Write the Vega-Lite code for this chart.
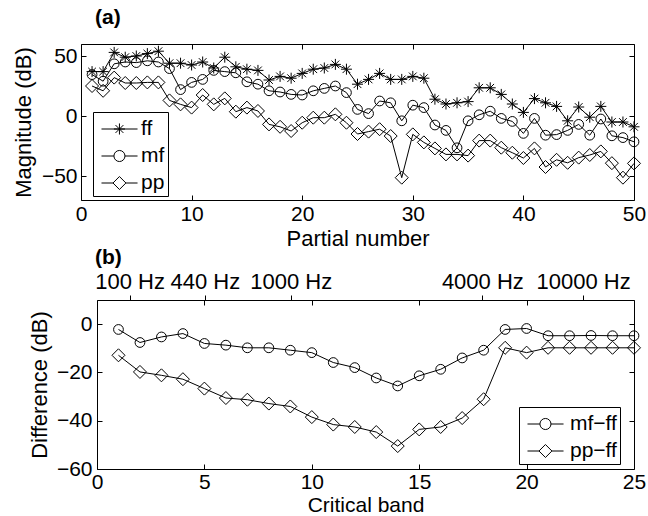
{
  "$schema": "https://vega.github.io/schema/vega-lite/v6.json",
  "background": "white",
  "padding": {"left": 12, "top": 6, "right": 2, "bottom": 2},
  "spacing": -2,
  "resolve": {"scale": {"shape": "independent"}, "legend": {"shape": "independent"}},
  "config": {
    "font": "Liberation Sans",
    "view": {"stroke": null},
    "axis": {"grid": false, "domainColor": "black", "domainWidth": 1, "tickColor": "black", "tickWidth": 1, "tickSize": -5, "labelFont": "Liberation Sans", "labelFontSize": 21, "labelColor": "black", "labelPadding": 8, "labelFlush": false, "labelOverlap": false, "titleFont": "Liberation Sans", "titleFontSize": 22, "titleFontWeight": "normal", "titleColor": "black"},
    "legend": {"orient": "none", "strokeColor": "black", "fillColor": "white", "padding": 3, "labelFont": "Liberation Sans", "labelFontSize": 21, "labelColor": "black", "symbolStrokeColor": "black", "symbolStrokeWidth": 1, "symbolFillColor": "transparent", "symbolOpacity": 1, "symbolSize": 729, "rowPadding": 3, "labelOffset": 17, "cornerRadius": 0},
    "title": {"font": "Liberation Sans", "fontSize": 21, "fontWeight": "bold", "anchor": "start", "color": "black", "frame": "group"}
  },
  "datasets": {
    "a": [
      {"n":1,"series":"ff","v":37},{"n":2,"series":"ff","v":37},{"n":3,"series":"ff","v":53},{"n":4,"series":"ff","v":49},{"n":5,"series":"ff","v":50},{"n":6,"series":"ff","v":52},{"n":7,"series":"ff","v":54},{"n":8,"series":"ff","v":44},{"n":9,"series":"ff","v":44},{"n":10,"series":"ff","v":42.5},
      {"n":11,"series":"ff","v":45},{"n":12,"series":"ff","v":40},{"n":13,"series":"ff","v":49},{"n":14,"series":"ff","v":41},{"n":15,"series":"ff","v":39},{"n":16,"series":"ff","v":38},{"n":17,"series":"ff","v":30},{"n":18,"series":"ff","v":33},{"n":19,"series":"ff","v":31.5},{"n":20,"series":"ff","v":35.5},
      {"n":21,"series":"ff","v":39},{"n":22,"series":"ff","v":40},{"n":23,"series":"ff","v":43},{"n":24,"series":"ff","v":39},{"n":25,"series":"ff","v":26.5},{"n":26,"series":"ff","v":30.5},{"n":27,"series":"ff","v":35.5},{"n":28,"series":"ff","v":30.5},{"n":29,"series":"ff","v":30.5},{"n":30,"series":"ff","v":33},
      {"n":31,"series":"ff","v":31.5},{"n":32,"series":"ff","v":14},{"n":33,"series":"ff","v":10},{"n":34,"series":"ff","v":11},{"n":35,"series":"ff","v":12},{"n":36,"series":"ff","v":23.5},{"n":37,"series":"ff","v":23.5},{"n":38,"series":"ff","v":18},{"n":39,"series":"ff","v":10},{"n":40,"series":"ff","v":3},
      {"n":41,"series":"ff","v":14.5},{"n":42,"series":"ff","v":11},{"n":43,"series":"ff","v":8},{"n":44,"series":"ff","v":-4},{"n":45,"series":"ff","v":7.5},{"n":46,"series":"ff","v":-1},{"n":47,"series":"ff","v":8},{"n":48,"series":"ff","v":-5},{"n":49,"series":"ff","v":-5},{"n":50,"series":"ff","v":-9},
      {"n":1,"series":"mf","v":34.5},{"n":2,"series":"mf","v":29},{"n":3,"series":"mf","v":43.5},{"n":4,"series":"mf","v":45},{"n":5,"series":"mf","v":44.5},{"n":6,"series":"mf","v":46},{"n":7,"series":"mf","v":45},{"n":8,"series":"mf","v":39.5},{"n":9,"series":"mf","v":22},{"n":10,"series":"mf","v":28},
      {"n":11,"series":"mf","v":30.5},{"n":12,"series":"mf","v":38},{"n":13,"series":"mf","v":37},{"n":14,"series":"mf","v":36},{"n":15,"series":"mf","v":28.5},{"n":16,"series":"mf","v":26.5},{"n":17,"series":"mf","v":21},{"n":18,"series":"mf","v":20},{"n":19,"series":"mf","v":18},{"n":20,"series":"mf","v":17.5},
      {"n":21,"series":"mf","v":21},{"n":22,"series":"mf","v":23},{"n":23,"series":"mf","v":25},{"n":24,"series":"mf","v":19.5},{"n":25,"series":"mf","v":5.5},{"n":26,"series":"mf","v":2},{"n":27,"series":"mf","v":12.5},{"n":28,"series":"mf","v":11},{"n":29,"series":"mf","v":-4},{"n":30,"series":"mf","v":9},
      {"n":31,"series":"mf","v":7},{"n":32,"series":"mf","v":-7.5},{"n":33,"series":"mf","v":-12},{"n":34,"series":"mf","v":-26.5},{"n":35,"series":"mf","v":-4},{"n":36,"series":"mf","v":1},{"n":37,"series":"mf","v":4},{"n":38,"series":"mf","v":-2},{"n":39,"series":"mf","v":-4.5},{"n":40,"series":"mf","v":-14.5},
      {"n":41,"series":"mf","v":-2},{"n":42,"series":"mf","v":-16},{"n":43,"series":"mf","v":-15.5},{"n":44,"series":"mf","v":-12},{"n":45,"series":"mf","v":-7},{"n":46,"series":"mf","v":-16},{"n":47,"series":"mf","v":-2.5},{"n":48,"series":"mf","v":-16.5},{"n":49,"series":"mf","v":-18},{"n":50,"series":"mf","v":-21.5},
      {"n":1,"series":"pp","v":25},{"n":2,"series":"pp","v":21},{"n":3,"series":"pp","v":32},{"n":4,"series":"pp","v":27.5},{"n":5,"series":"pp","v":27.5},{"n":6,"series":"pp","v":28},{"n":7,"series":"pp","v":28},{"n":8,"series":"pp","v":13},{"n":9,"series":"pp","v":9.7},{"n":10,"series":"pp","v":7},
      {"n":11,"series":"pp","v":17.5},{"n":12,"series":"pp","v":9.7},{"n":13,"series":"pp","v":14.7},{"n":14,"series":"pp","v":3.6},{"n":15,"series":"pp","v":7},{"n":16,"series":"pp","v":4.2},{"n":17,"series":"pp","v":-7},{"n":18,"series":"pp","v":-9},{"n":19,"series":"pp","v":-12.5},{"n":20,"series":"pp","v":-5.6},
      {"n":21,"series":"pp","v":-1.4},{"n":22,"series":"pp","v":-1.4},{"n":23,"series":"pp","v":1.4},{"n":24,"series":"pp","v":-5.6},{"n":25,"series":"pp","v":-15},{"n":26,"series":"pp","v":-13},{"n":27,"series":"pp","v":-11},{"n":28,"series":"pp","v":-16.7},{"n":29,"series":"pp","v":-51.4},{"n":30,"series":"pp","v":-15.3},
      {"n":31,"series":"pp","v":-22},{"n":32,"series":"pp","v":-27},{"n":33,"series":"pp","v":-32},{"n":34,"series":"pp","v":-32},{"n":35,"series":"pp","v":-33},{"n":36,"series":"pp","v":-20.5},{"n":37,"series":"pp","v":-20.5},{"n":38,"series":"pp","v":-26.4},{"n":39,"series":"pp","v":-30.6},{"n":40,"series":"pp","v":-35},
      {"n":41,"series":"pp","v":-27},{"n":42,"series":"pp","v":-42.5},{"n":43,"series":"pp","v":-36.5},{"n":44,"series":"pp","v":-39},{"n":45,"series":"pp","v":-34.7},{"n":46,"series":"pp","v":-32.5},{"n":47,"series":"pp","v":-29.5},{"n":48,"series":"pp","v":-39.3},{"n":49,"series":"pp","v":-51.4},{"n":50,"series":"pp","v":-39.5}
    ],
    "b": [
      {"band":1,"series":"mf−ff","v":-2.2},{"band":2,"series":"mf−ff","v":-7.6},{"band":3,"series":"mf−ff","v":-5.3},{"band":4,"series":"mf−ff","v":-3.9},{"band":5,"series":"mf−ff","v":-8},{"band":6,"series":"mf−ff","v":-8.7},{"band":7,"series":"mf−ff","v":-9.8},{"band":8,"series":"mf−ff","v":-9.8},{"band":9,"series":"mf−ff","v":-10.8},{"band":10,"series":"mf−ff","v":-11.8},
      {"band":11,"series":"mf−ff","v":-15.9},{"band":12,"series":"mf−ff","v":-18},{"band":13,"series":"mf−ff","v":-22.3},{"band":14,"series":"mf−ff","v":-25.6},{"band":15,"series":"mf−ff","v":-21.4},{"band":16,"series":"mf−ff","v":-18.7},{"band":17,"series":"mf−ff","v":-14},{"band":18,"series":"mf−ff","v":-10.8},{"band":19,"series":"mf−ff","v":-2.2},{"band":20,"series":"mf−ff","v":-1.8},
      {"band":21,"series":"mf−ff","v":-4.8},{"band":22,"series":"mf−ff","v":-4.8},{"band":23,"series":"mf−ff","v":-4.7},{"band":24,"series":"mf−ff","v":-4.8},{"band":25,"series":"mf−ff","v":-4.8},
      {"band":1,"series":"pp−ff","v":-12.9},{"band":2,"series":"pp−ff","v":-19.8},{"band":3,"series":"pp−ff","v":-21.2},{"band":4,"series":"pp−ff","v":-22.8},{"band":5,"series":"pp−ff","v":-26.7},{"band":6,"series":"pp−ff","v":-30.6},{"band":7,"series":"pp−ff","v":-31.3},{"band":8,"series":"pp−ff","v":-32.9},{"band":9,"series":"pp−ff","v":-34.1},{"band":10,"series":"pp−ff","v":-38.5},
      {"band":11,"series":"pp−ff","v":-41.6},{"band":12,"series":"pp−ff","v":-42.6},{"band":13,"series":"pp−ff","v":-44.7},{"band":14,"series":"pp−ff","v":-50.5},{"band":15,"series":"pp−ff","v":-43.6},{"band":16,"series":"pp−ff","v":-42.6},{"band":17,"series":"pp−ff","v":-38.9},{"band":18,"series":"pp−ff","v":-31.1},{"band":19,"series":"pp−ff","v":-9.8},{"band":20,"series":"pp−ff","v":-11.8},
      {"band":21,"series":"pp−ff","v":-9.8},{"band":22,"series":"pp−ff","v":-9.8},{"band":23,"series":"pp−ff","v":-9.8},{"band":24,"series":"pp−ff","v":-9.8},{"band":25,"series":"pp−ff","v":-9.8}
    ]
  },
  "vconcat": [
    {
      "title": {"text": "(a)", "dx": 14, "offset": 16},
      "width": 553,
      "height": 156,
      "data": {"name": "a"},
      "layer": [
        {
          "mark": {"type": "line", "color": "black", "strokeWidth": 1},
          "encoding": {
            "x": {"field": "n", "type": "quantitative", "scale": {"domain": [0, 50], "nice": false, "zero": false}, "axis": {"orient": "bottom", "values": [0, 10, 20, 30, 40, 50], "title": "Partial number", "labelPadding": 8, "titlePadding": 4}},
            "y": {"field": "v", "type": "quantitative", "scale": {"domain": [-70, 60], "nice": false, "zero": false}, "axis": {"orient": "left", "values": [-50, 0, 50], "title": "Magnitude (dB)", "titlePadding": 6, "labelPadding": 9}},
            "detail": {"field": "series", "type": "nominal"}
          }
        },
        {
          "transform": [{"filter": "datum.series === 'ff'"}],
          "mark": {"type": "point", "filled": false, "color": "black", "opacity": 1, "strokeWidth": 1, "size": 121, "shape": "M0,-1L0,1M-1,0L1,0M-0.7,-0.7L0.7,0.7M-0.7,0.7L0.7,-0.7"},
          "encoding": {
            "x": {"field": "n", "type": "quantitative", "axis": {"orient": "top", "values": [0, 10, 20, 30, 40, 50], "labels": false, "title": null}},
            "y": {"field": "v", "type": "quantitative", "axis": {"orient": "right", "values": [-50, 0, 50], "labels": false, "title": null}}
          }
        },
        {
          "transform": [{"filter": "datum.series === 'mf'"}],
          "mark": {"type": "point", "filled": false, "color": "black", "opacity": 1, "strokeWidth": 1, "size": 95, "shape": "circle"},
          "encoding": {
            "x": {"field": "n", "type": "quantitative", "axis": null},
            "y": {"field": "v", "type": "quantitative", "axis": null}
          }
        },
        {
          "transform": [{"filter": "datum.series === 'pp'"}],
          "mark": {"type": "point", "filled": false, "color": "black", "opacity": 1, "strokeWidth": 1, "size": 169, "shape": "diamond"},
          "encoding": {
            "x": {"field": "n", "type": "quantitative", "axis": null},
            "y": {"field": "v", "type": "quantitative", "axis": null}
          }
        },
        {
          "transform": [{"filter": "false"}],
          "mark": {"type": "point", "filled": false, "color": "black", "opacity": 1, "strokeWidth": 1},
          "encoding": {
            "x": {"field": "n", "type": "quantitative", "axis": null},
            "y": {"field": "v", "type": "quantitative", "axis": null},
            "shape": {"field": "series", "type": "nominal",
              "scale": {"domain": ["ff", "mf", "pp"], "range": ["M-0.63,0L2.04,0M0.7,-0.41L0.7,0.41M0.29,0L1.11,0M0.41,-0.29L0.99,0.29M0.41,0.29L0.99,-0.29", "M-0.63,0L0.29,0M1.11,0L2.04,0M1.11,0A0.41,0.41,0,1,1,0.29,0A0.41,0.41,0,1,1,1.11,0Z", "M-0.63,0L0.22,0M1.18,0L2.04,0M0.22,0L0.7,-0.48L1.18,0L0.7,0.48Z"]},
              "legend": {"title": null, "legendX": 12, "legendY": 68, "labelOffset": 17}}
          }
        }
      ],
      "resolve": {"axis": {"x": "independent", "y": "independent"}}
    },
    {
      "title": {"text": "(b)", "dx": 14, "offset": 2},
      "width": 553,
      "height": 169,
      "data": {"name": "b"},
      "layer": [
        {
          "mark": {"type": "line", "color": "black", "strokeWidth": 1},
          "encoding": {
            "x": {"field": "band", "type": "quantitative", "scale": {"domain": [0, 25], "range": [16, 553], "nice": false, "zero": false}, "axis": {"orient": "bottom", "values": [0, 5, 10, 15, 20, 25], "title": "Critical band", "titleFontSize": 21, "labelPadding": 7, "titlePadding": 2}},
            "y": {"field": "v", "type": "quantitative", "scale": {"domain": [-60, 10], "nice": false, "zero": false}, "axis": {"orient": "left", "offset": -16, "values": [-60, -40, -20, 0], "title": "Difference (dB)", "titlePadding": 5, "labelPadding": 10}},
            "detail": {"field": "series", "type": "nominal"}
          }
        },
        {
          "transform": [{"filter": "datum.series === 'mf−ff'"}],
          "mark": {"type": "point", "filled": false, "color": "black", "opacity": 1, "strokeWidth": 1, "size": 95, "shape": "circle"},
          "encoding": {
            "x": {"field": "band", "type": "quantitative", "axis": {"orient": "top", "values": [5, 10, 15, 20], "labels": false, "title": null}},
            "y": {"field": "v", "type": "quantitative", "axis": {"orient": "right", "values": [-40, -20, 0], "labels": false, "title": null}}
          }
        },
        {
          "transform": [{"filter": "datum.series === 'pp−ff'"}],
          "mark": {"type": "point", "filled": false, "color": "black", "opacity": 1, "strokeWidth": 1, "size": 169, "shape": "diamond"},
          "encoding": {
            "x": {"field": "band", "type": "quantitative", "axis": {"orient": "top", "values": [1.52, 5.02, 9.02, 17.94, 22.63], "labelExpr": "datum.value < 2 ? '100 Hz' : datum.value < 6 ? '440 Hz' : datum.value < 10 ? '1000 Hz' : datum.value < 20 ? '4000 Hz' : '10000 Hz'", "tickSize": 5, "labelPadding": 2, "labelFontSize": 22, "title": null}},
            "y": {"field": "v", "type": "quantitative", "axis": null}
          }
        },
        {
          "transform": [{"filter": "false"}],
          "mark": {"type": "point", "filled": false, "color": "black", "opacity": 1, "strokeWidth": 1},
          "encoding": {
            "x": {"field": "band", "type": "quantitative", "axis": null},
            "y": {"field": "v", "type": "quantitative", "axis": null},
            "shape": {"field": "series", "type": "nominal",
              "scale": {"domain": ["mf−ff", "pp−ff"], "range": ["M-0.63,0L0.29,0M1.11,0L2.04,0M1.11,0A0.41,0.41,0,1,1,0.29,0A0.41,0.41,0,1,1,1.11,0Z", "M-0.63,0L0.22,0M1.18,0L2.04,0M0.22,0L0.7,-0.48L1.18,0L0.7,0.48Z"]},
              "legend": {"title": null, "legendX": 438, "legendY": 107, "labelOffset": 20}}
          }
        }
      ],
      "resolve": {"axis": {"x": "independent", "y": "independent"}}
    }
  ]
}
